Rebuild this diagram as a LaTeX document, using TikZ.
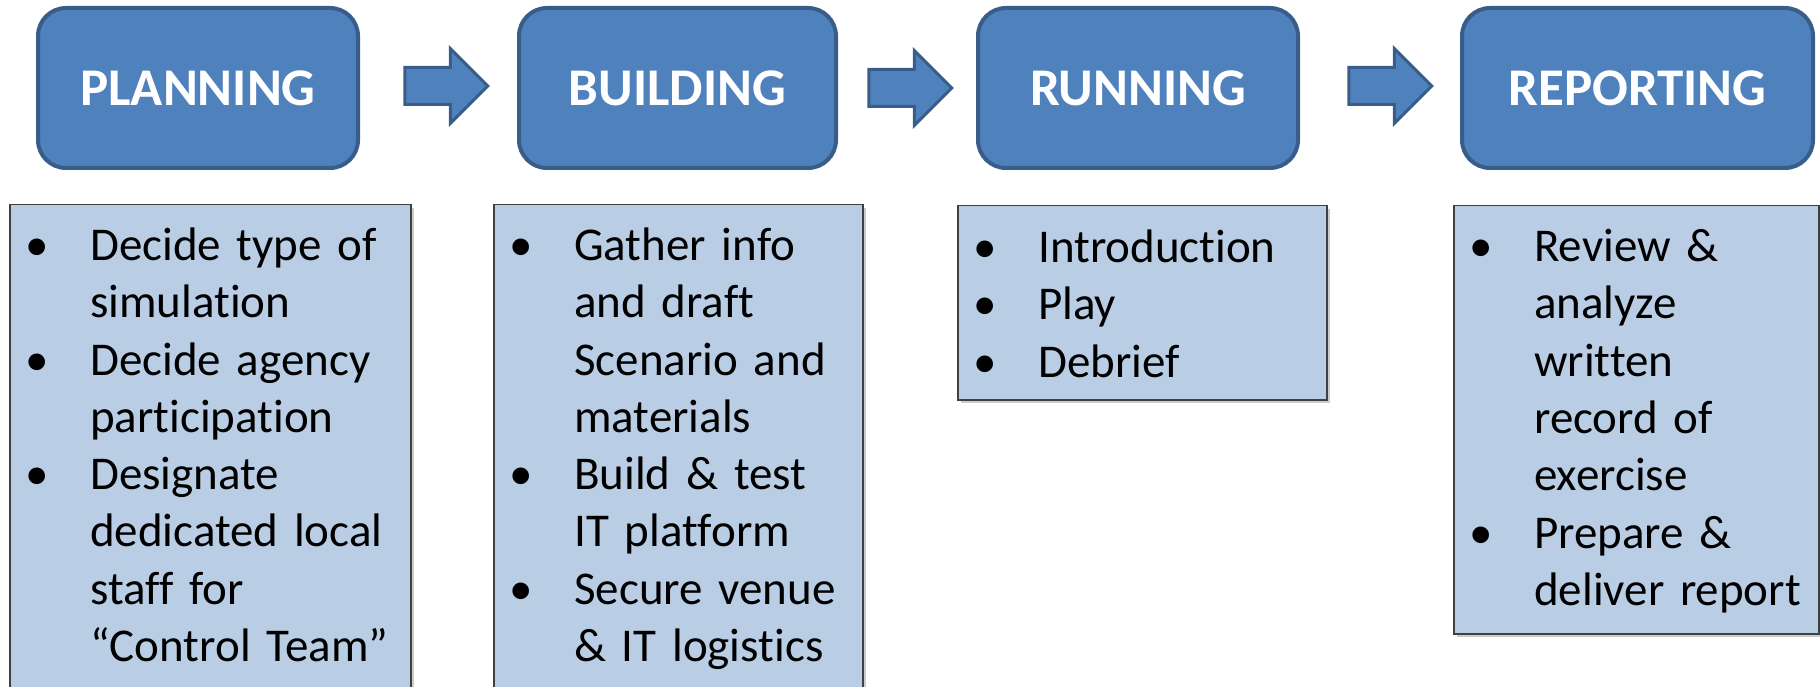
\documentclass[tikz,border=0pt]{standalone}
\usepackage{fontspec}
\setmainfont[Ligatures={TeX,NoCommon}]{Carlito}
\usetikzlibrary{shapes.arrows,shadows}

\definecolor{phasefill}{HTML}{4F81BD}
\definecolor{phaseline}{HTML}{385D8A}
\definecolor{listfill}{HTML}{B9CDE5}
\definecolor{listline}{HTML}{404040}

\newcommand\bul{\par\hangindent=71pt\hangafter=1\noindent\rule{0pt}{40pt}\makebox[71pt][l]{\hspace{18pt}\makebox[0pt][c]{\textbullet}}}
\newcommand\nl{\hfil\break}

\begin{document}
\begin{tikzpicture}[x=1pt,y=-1pt,
  phase/.style={draw=phaseline,fill=phasefill,line width=4pt,rounded corners=28pt,minimum height=160pt,text=white,font=\fontsize{53}{60}\selectfont\bfseries},
  blockarrow/.style={single arrow,draw=phaseline,fill=phasefill,line width=3pt,inner xsep=0pt,inner ysep=17pt,single arrow head extend=19pt,minimum height=83pt},
  listbox/.style={draw=listline,fill=listfill,line width=1.5pt,anchor=north west,inner sep=0pt,drop shadow={shadow xshift=3pt,shadow yshift=-3pt,opacity=0.4}},
  listtext/.style={anchor=north west,inner sep=0pt,text width=380pt,font=\fontsize{47}{57.3}\selectfont}]

\clip (0,0) rectangle (1820,687);

\node[phase,minimum width=320pt] (plan) at (198,88) {PLANNING};
\node[phase,minimum width=317pt] (build) at (677.5,88) {BUILDING};
\node[phase,minimum width=320pt] (run) at (1138,88) {RUNNING};
\node[phase,minimum width=351pt] (report) at (1637.5,88) {REPORTING};

\node[blockarrow] (a1) at (437,86) {};
\node[blockarrow] (a2) at (901,88) {};
\node[blockarrow] (a3) at (1381,86) {};

\node[listbox,minimum width=401pt,minimum height=556pt] (planlist) at (9,204) {};
\node[listbox,minimum width=369pt,minimum height=556pt] (buildlist) at (493,204) {};
\node[listbox,minimum width=369pt,minimum height=194pt] (runlist) at (957,205) {};
\node[listbox,minimum width=365pt,minimum height=428pt] (reportlist) at (1453,205) {};

% bullet lists
\node[listtext] (plantext) at (19,203) {\bul Decide type of\nl simulation
  \bul Decide agency\nl participation
  \bul Designate\nl dedicated local\nl staff for\nl ``Control Team''\par};
\node[listtext] (buildtext) at (503,203) {\bul Gather info\nl and draft\nl Scenario and\nl materials
  \bul Build \& test\nl IT platform
  \bul Secure venue\nl \& IT logistics\par};
\node[listtext] (runtext) at (967,205) {\bul Introduction
  \bul Play
  \bul Debrief\par};
\node[listtext] (reporttext) at (1463,204) {\bul Review \&\nl analyze\nl written\nl record of\nl exercise
  \bul Prepare \&\nl deliver report\par};
\end{tikzpicture}
\end{document}
